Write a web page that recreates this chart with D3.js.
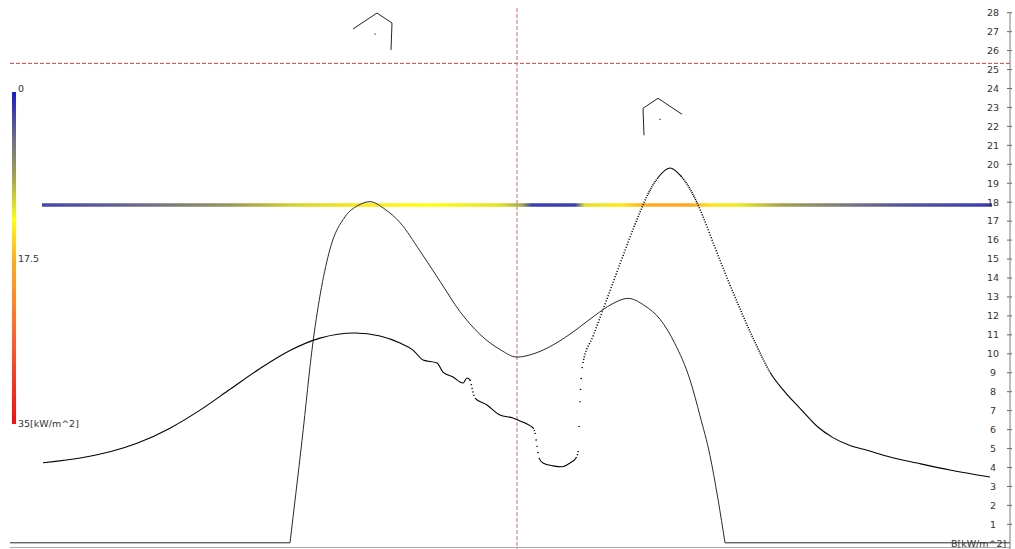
<!DOCTYPE html>
<html>
<head>
<meta charset="utf-8">
<script src="https://cdn.jsdelivr.net/npm/d3@7"></script>
<style>
  body { margin: 0; background: #fff; }
  text { font-family: "DejaVu Sans", sans-serif; font-size: 9.5px; fill: #333; }
</style>
</head>
<body>
<svg id="chart" width="1015" height="549"></svg>
<script>
// ---- data ----------------------------------------------------------------
// Right axis tick values [kW/m^2]
const tickValues = [1, 2, 3, 4, 5, 6, 7, 8, 9, 10, 11, 12, 13, 14, 15, 16, 17, 18, 19, 20,
                    21, 22, 23, 24, 25, 26, 27, 28];

// Profile A (thin solid curve)
const profileAX = [0, 280, 292, 303, 320, 335, 348, 360, 375, 390, 410, 430, 450, 470, 490, 507,
                   525, 545, 565, 585, 602, 618, 635, 650, 665, 680, 690, 700, 708, 715, 1000];
const profileAY = [0, 0, 5.4, 10.6, 15.5, 17.2, 17.8, 18.0, 17.6, 16.9, 15.4, 13.8, 12.2, 11.0, 10.2, 9.8,
                   10.0, 10.5, 11.2, 12.0, 12.6, 12.9, 12.5, 11.8, 10.5, 8.6, 6.7, 4.6, 2.3, 0, 0];

// Profile B (sampled curve, dotted where it is steep)
const profileBX = [33, 73, 100, 127, 160, 190, 220, 250, 280, 310, 345, 370, 390, 403, 413, 427, 433,
                   443, 453, 457, 460, 462, 465, 477, 490, 503, 510, 515, 523, 525, 527, 529, 533, 543,
                   552, 560, 566, 568, 569, 570.5, 573, 583, 593, 600, 612, 622, 632, 637, 647, 660,
                   671, 687, 695, 703, 712, 720, 728, 737, 748, 760, 775, 790, 807, 823, 840, 857, 880,
                   907, 940, 980];
const profileBY = [4.22, 4.50, 4.80, 5.25, 6.05, 7.0, 8.1, 9.2, 10.15, 10.8, 11.07, 10.91, 10.54,
                   10.17, 9.65, 9.49, 9.01, 8.75, 8.43, 8.70, 8.59, 8.17, 7.64, 7.27, 6.74, 6.59, 6.43,
                   6.32, 6.06, 5.80, 5.11, 4.48, 4.21, 4.06, 4.01, 4.21, 4.48, 4.79, 6.11, 8.06, 9.49,
                   10.9, 12.3, 13.3, 15.0, 16.4, 17.7, 18.3, 19.2, 19.78, 19.35, 17.95, 16.95,
                   15.85, 14.65, 13.6, 12.6, 11.5, 10.25, 9.0, 7.95, 7.1, 6.15, 5.55, 5.13, 4.88, 4.53,
                   4.21, 3.84, 3.47];

// Intensity band drawn at a fixed level, coloured by intensity along its length
const bandLevel = 17.83;
const bandX = [32, 120, 220, 290, 360, 420, 490, 512, 522, 565, 575, 610, 635, 680, 700, 730, 770, 830, 890, 982];
const bandValue = [2.5, 4.5, 8, 11.5, 14.5, 13.5, 12, 9, 2, 2, 12, 14.5, 18, 18.5, 15, 12.5, 9, 6, 3.5, 2];

// Colour legend
const legendStops = [0, 5, 9, 13.5, 17.5, 26, 35];
const legendColours = ["#1a1acf", "#707088", "#a4a44c", "#ffff10", "#ffb020", "#ff6030", "#f01010"];
const legendLabels = [0, 17.5, 35];
const legendUnit = "[kW/m^2]";

// Reference cursors
const cursorX = 507;
const cursorLevel = 25.3;

// Peak markers
const markerX = [365, 650];
const markerY = [26.85, 22.35];
const markerSide = [1, -1];

const axisUnit = "B[kW/m^2]";

// ---- scales ----------------------------------------------------------------
const svg = d3.select("#chart");
const x = d3.scaleLinear().domain([0, 1000]).range([10, 1010]);
const y = d3.scaleLinear().domain([0, 28]).range([542.8, 12.2]);
const colour = d3.scaleLinear().domain(legendStops).range(legendColours).interpolate(d3.interpolateRgb);
const legendY = d3.scaleLinear().domain([0, 35]).range([92, 424]);

const defs = svg.append("defs");

// ---- baseline and cursors -------------------------------------------------
svg.append("line")
  .attr("x1", x(0)).attr("x2", x(1000)).attr("y1", 547.5).attr("y2", 547.5)
  .attr("stroke", "#a8a8a8").attr("stroke-width", 1);

svg.append("line")
  .attr("x1", x(0)).attr("x2", x(1000))
  .attr("y1", y(cursorLevel)).attr("y2", y(cursorLevel))
  .attr("stroke", "#c84444").attr("stroke-width", 1).attr("stroke-dasharray", "4,2");

svg.append("line")
  .attr("x1", x(cursorX)).attr("x2", x(cursorX)).attr("y1", 8).attr("y2", 549)
  .attr("stroke", "#d86a6a").attr("stroke-width", 1).attr("stroke-dasharray", "4,2");

// ---- intensity band --------------------------------------------------------
const bx0 = x(bandX[0]), bx1 = x(bandX[bandX.length - 1]);
const bandGrad = defs.append("linearGradient").attr("id", "bandGrad")
  .attr("gradientUnits", "userSpaceOnUse")
  .attr("x1", bx0).attr("x2", bx1).attr("y1", 0).attr("y2", 0);
bandX.forEach((v, i) => {
  bandGrad.append("stop")
    .attr("offset", (x(v) - bx0) / (bx1 - bx0))
    .attr("stop-color", colour(bandValue[i]));
});
svg.append("line")
  .attr("x1", bx0).attr("x2", bx1)
  .attr("y1", y(bandLevel)).attr("y2", y(bandLevel))
  .attr("stroke", "url(#bandGrad)").attr("stroke-width", 3.5);

// ---- profile A -------------------------------------------------------------
const ptsA = profileAX.map((v, i) => [v, profileAY[i]]);
const firstRise = profileAY.findIndex(v => v > 0) - 1;
const lastFall = profileAY.length - 1 - [...profileAY].reverse().findIndex(v => v > 0) + 1;
const lineLin = d3.line().x(d => x(d[0])).y(d => y(d[1]));
const lineSmooth = d3.line().x(d => x(d[0])).y(d => y(d[1])).curve(d3.curveMonotoneX);
const gA = svg.append("g").attr("fill", "none").attr("stroke", "#2a2a2a").attr("stroke-width", 1);
gA.append("path").attr("d", lineLin(ptsA.slice(0, firstRise + 1)));
gA.append("path").attr("d", lineSmooth(ptsA.slice(firstRise, lastFall + 1)));
gA.append("path").attr("d", lineLin(ptsA.slice(lastFall)));

// ---- profile B: one bezier piece per sample interval, dotted when steep ------
const ptsB = profileBX.map((v, i) => [v, profileBY[i]]);
const dB = lineSmooth(ptsB);
const head = dB.match(/^M([^C]+)/);
let start = head[1].split(",").map(Number);
const gB = svg.append("g").attr("fill", "none").attr("stroke", "#000").attr("stroke-width", 1.1);
dB.slice(head[0].length).split("C").filter(s => s.length).forEach(seg => {
  const n = seg.split(",").map(Number);
  const dx = Math.abs(n[4] - start[0]) || 0.01;
  const dy = Math.abs(n[5] - start[1]);
  const step = Math.sqrt(1 + (dy / dx) * (dy / dx));
  const p = gB.append("path")
    .attr("d", `M${start[0]},${start[1]}C${seg}`);
  if (step > 1.9) {
    p.attr("stroke-width", 1.5)
     .attr("stroke-dasharray", `1.1,${(step - 1.1).toFixed(2)}`);
  }
  start = [n[4], n[5]];
});

// ---- peak markers ----------------------------------------------------------
const glyph = [[-22, -5], [2, -21], [17, -11], [16, 16]];
markerX.forEach((mx, i) => {
  const cx = x(mx), cy = y(markerY[i]), s = markerSide[i];
  svg.append("path")
    .attr("d", d3.line()(glyph.map(p => [cx + s * p[0], cy + p[1]])))
    .attr("fill", "none").attr("stroke", "#222").attr("stroke-width", 1);
  svg.append("rect").attr("x", cx - 0.5).attr("y", cy - 0.5).attr("width", 1.2).attr("height", 1.2)
    .attr("fill", "#222");
});

// ---- right axis ------------------------------------------------------------
const axisG = svg.append("g").attr("transform", `translate(${x(1000)},0)`)
  .call(d3.axisLeft(y).tickValues(tickValues).tickSizeOuter(0).tickSizeInner(3).tickPadding(0));
axisG.select(".domain").remove();
axisG.selectAll(".tick line").attr("x1", 2).attr("x2", -3).attr("stroke", "#666");
axisG.selectAll(".tick text")
  .attr("x", -17).attr("dy", "0.35em").attr("text-anchor", "middle")
  .style("font-family", "DejaVu Sans, sans-serif").style("font-size", "9.5px").attr("fill", "#333");
axisG.append("line").attr("x1", 0).attr("x2", 0).attr("y1", y(28)).attr("y2", 549)
  .attr("stroke", "#7a7a7a");

svg.append("text").attr("x", 951).attr("y", 547).text(axisUnit);

// ---- colour legend ---------------------------------------------------------
const legGrad = defs.append("linearGradient").attr("id", "legGrad")
  .attr("x1", 0).attr("x2", 0).attr("y1", 0).attr("y2", 1);
legendStops.forEach((v, i) => {
  legGrad.append("stop").attr("offset", v / 35).attr("stop-color", legendColours[i]);
});
svg.append("rect")
  .attr("x", 12).attr("y", legendY(0)).attr("width", 4)
  .attr("height", legendY(35) - legendY(0))
  .attr("fill", "url(#legGrad)");
svg.selectAll(".leg-label").data(legendLabels).join("text")
  .attr("class", "leg-label")
  .attr("x", 18).attr("y", (d, i) => legendY(d) + [0, 4, 3][i])
  .text((d, i) => i === legendLabels.length - 1 ? d + legendUnit : d);
</script>
</body>
</html>
